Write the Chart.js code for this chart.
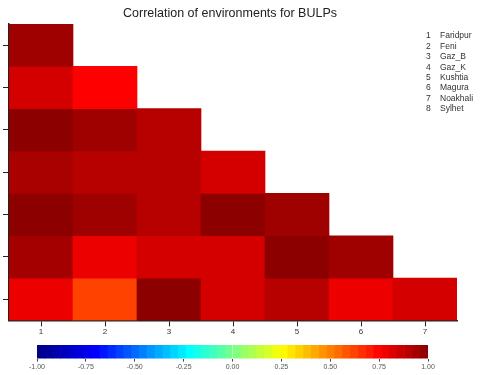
<!DOCTYPE html>
<html>
<head>
<meta charset="utf-8">
<script src="https://cdn.jsdelivr.net/npm/chart.js@4"></script>
<style>
  html, body { margin: 0; padding: 0; background: #fff; }
  #wrap { position: relative; width: 491px; height: 375px; }
  #heat { position: absolute; left: 0; top: 0; }
  #bar { position: absolute; left: 0; top: 340px; }
</style>
</head>
<body>
<div id="wrap">
  <canvas id="heat" width="491" height="375"></canvas>
  <canvas id="bar" width="491" height="35"></canvas>
</div>
<script>
// lower triangle, rows listed top to bottom
const columns = ['1', '2', '3', '4', '5', '6', '7'];
const row1 = [0.95];
const row2 = [0.84, 0.75];
const row3 = [0.99, 0.95, 0.90];
const row4 = [0.93, 0.90, 0.90, 0.84];
const row5 = [0.99, 0.95, 0.90, 0.99, 0.95];
const row6 = [0.94, 0.79, 0.84, 0.84, 0.99, 0.95];
const row7 = [0.79, 0.62, 0.99, 0.84, 0.90, 0.79, 0.84];
const rows = [row1, row2, row3, row4, row5, row6, row7];

const envNumbers = ['1', '2', '3', '4', '5', '6', '7', '8'];
const envNames = ['Faridpur', 'Feni', 'Gaz_B', 'Gaz_K', 'Kushtia', 'Magura', 'Noakhali', 'Sylhet'];

const colorbarTicks = [-1, -0.75, -0.5, -0.25, 0, 0.25, 0.5, 0.75, 1];
const colorbarSteps = 50;

// colour ramp: dark blue -> blue -> cyan -> yellow -> red -> dark red
const stops = [
  [-1.0, [0, 0, 130]],
  [-0.7, [0, 0, 255]],
  [-0.22, [0, 255, 255]],
  [0.25, [255, 255, 0]],
  [0.75, [255, 0, 0]],
  [1.0, [135, 0, 0]],
];

function colorFor(v) {
  for (let i = 1; i < stops.length; i++) {
    if (v <= stops[i][0]) {
      const [a, ca] = stops[i - 1];
      const [b, cb] = stops[i];
      const t = (v - a) / (b - a);
      const c = ca.map((x, k) => Math.round(x + (cb[k] - x) * t));
      return `rgb(${c[0]},${c[1]},${c[2]})`;
    }
  }
  return 'rgb(135,0,0)';
}

const n = rows.length;
const heatSets = rows.map((vals, r) => ({
  data: columns.map((c, i) => (i < vals.length ? [n - 1 - r, n - r] : null)),
  backgroundColor: columns.map((c, i) => (i < vals.length ? colorFor(vals[i]) : 'transparent')),
  borderWidth: 0,
  barPercentage: 1,
  categoryPercentage: 1,
  grouped: false,
}));

const envLegend = {
  id: 'envLegend',
  afterDraw(chart) {
    const ctx = chart.ctx;
    ctx.save();
    ctx.font = '8.5px "Liberation Sans", Arial, sans-serif';
    ctx.fillStyle = '#333';
    ctx.textBaseline = 'middle';
    envNames.forEach((name, i) => {
      const y = 36 + i * 10.4;
      ctx.fillText(envNumbers[i], 426, y);
      ctx.fillText(name, 440, y);
    });
    ctx.restore();
  },
};

new Chart(document.getElementById('heat'), {
  type: 'bar',
  data: { labels: columns, datasets: heatSets },
  plugins: [envLegend],
  options: {
    responsive: false,
    animation: false,
    layout: { padding: { left: 3, right: 34, top: 0, bottom: 37 } },
    plugins: {
      legend: { display: false },
      tooltip: { enabled: false },
      title: {
        display: true,
        text: 'Correlation of environments for BULPs',
        color: '#222',
        font: { family: '"Liberation Sans", Arial, sans-serif', size: 12.5, weight: 'normal' },
        padding: { top: 6.5, bottom: 2.5 },
      },
    },
    scales: {
      x: {
        grid: { offset: false, drawOnChartArea: false, tickLength: 6, color: '#222' },
        border: { color: '#222', width: 1.5 },
        ticks: { color: '#333', padding: 1, font: { size: 8, family: '"Liberation Sans", Arial, sans-serif' } },
      },
      y: {
        min: 0,
        max: n,
        afterBuildTicks: (axis) => {
          axis.ticks = columns.map((c, i) => ({ value: i + 0.5 }));
        },
        grid: { drawOnChartArea: false, tickLength: 6, color: '#222' },
        border: { color: '#222', width: 1.5 },
        ticks: { display: false },
      },
    },
  },
});

// colour key
const barSets = [];
for (let i = 0; i < colorbarSteps; i++) {
  const lo = -1 + (2 * i) / colorbarSteps;
  const hi = -1 + (2 * (i + 1)) / colorbarSteps;
  barSets.push({
    data: [[lo, hi]],
    backgroundColor: colorFor((lo + hi) / 2),
    borderWidth: 0,
    barPercentage: 1,
    categoryPercentage: 1,
    grouped: false,
  });
}

new Chart(document.getElementById('bar'), {
  type: 'bar',
  data: { labels: ['key'], datasets: barSets },
  options: {
    indexAxis: 'y',
    responsive: false,
    animation: false,
    layout: { padding: { left: 37, right: 63, top: 5, bottom: 3 } },
    plugins: { legend: { display: false }, tooltip: { enabled: false } },
    scales: {
      x: {
        min: -1,
        max: 1,
        afterBuildTicks: (axis) => {
          axis.ticks = colorbarTicks.map((v) => ({ value: v }));
        },
        grid: { drawOnChartArea: false, tickLength: 3, color: '#444' },
        border: { display: false },
        ticks: {
          color: '#555',
          padding: 1,
          maxRotation: 0,
          font: { size: 7, family: '"Liberation Sans", Arial, sans-serif' },
          callback: (v) => Number(v).toFixed(2),
        },
      },
      y: { display: false },
    },
  },
});
</script>
</body>
</html>
